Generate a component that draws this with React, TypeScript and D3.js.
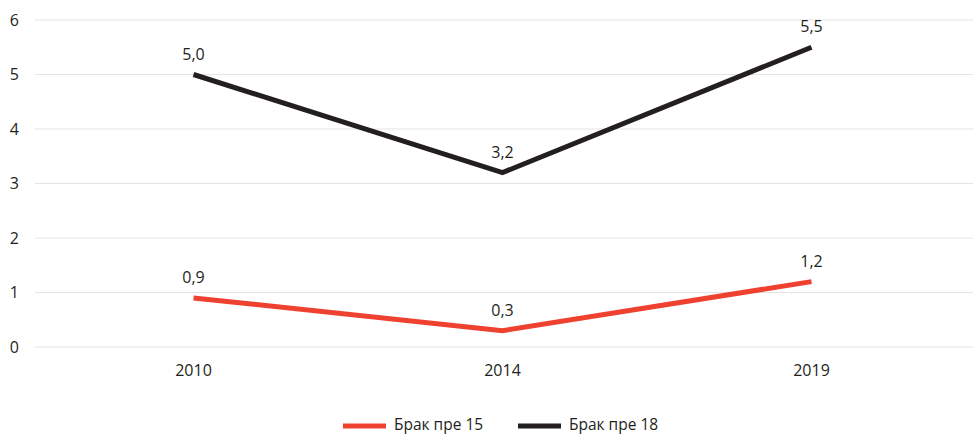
import React from "react";
import * as d3 from "d3";

const years = ["2010", "2014", "2019"];
const under15 = [0.9, 0.3, 1.2];
const under18 = [5.0, 3.2, 5.5];
const yTicks = [0, 1, 2, 3, 4, 5, 6];
const seriesNames = ["Брак пре 15", "Брак пре 18"];
const seriesColors = ["#ee4130", "#231f20"];

const W = 973;
const H = 434;
const FONT = "'Open Sans', 'Noto Sans', sans-serif";

export default function App() {
  const x = d3.scalePoint<string>().domain(years).range([193.5, 811.5]);
  const y = d3.scaleLinear().domain([0, 6]).range([347, 20]);
  const line = d3
    .line<number>()
    .x((_, i) => x(years[i]) as number)
    .y((d) => y(d));
  const fmt = (v: number) => v.toFixed(1).replace(".", ",");
  const series = [under15, under18];
  const legendX = [343, 518];

  return (
    <svg
      width={W}
      height={H}
      style={{ position: "absolute", left: 0, top: 0 }}
      fontFamily={FONT}
    >
      <rect width={W} height={H} fill="#fff" />
      {yTicks.map((t) => (
        <g key={t}>
          <line x1={35} x2={W} y1={y(t)} y2={y(t)} stroke="#e3e3e3" strokeWidth={1} />
          <text x={19} y={y(t)} dy="0.35em" textAnchor="end" fontSize={16} fill="#231f20">
            {t}
          </text>
        </g>
      ))}
      {years.map((yr) => (
        <text key={yr} x={x(yr)} y={376} textAnchor="middle" fontSize={16} fill="#231f20">
          {yr}
        </text>
      ))}
      {series.map((s, si) => (
        <g key={si}>
          <path d={line(s) || ""} fill="none" stroke={seriesColors[si]} strokeWidth={5} strokeLinejoin="miter" />
          {s.map((v, i) => (
            <text
              key={i}
              x={x(years[i])}
              y={y(v) - 15}
              textAnchor="middle"
              fontSize={16}
              fill="#231f20"
            >
              {fmt(v)}
            </text>
          ))}
        </g>
      ))}
      {seriesNames.map((n, i) => (
        <g key={n}>
          <line x1={legendX[i]} x2={legendX[i] + 43} y1={426} y2={426} stroke={seriesColors[i]} strokeWidth={5} />
          <text x={legendX[i] + 51} y={425} dy="0.35em" fontSize={15.5} fill="#231f20">
            {n}
          </text>
        </g>
      ))}
    </svg>
  );
}
